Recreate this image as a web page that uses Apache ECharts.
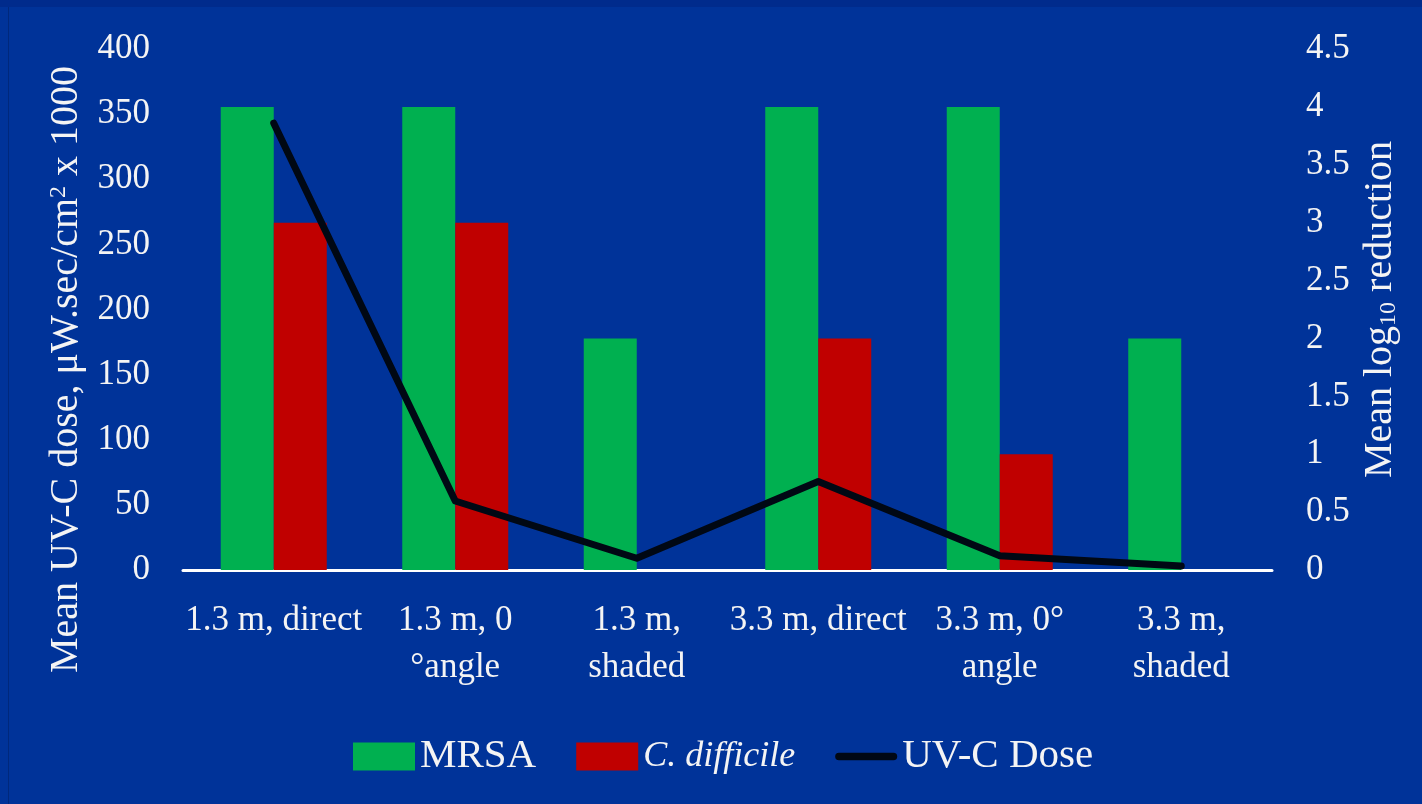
<!DOCTYPE html>
<html>
<head>
<meta charset="utf-8">
<script src="https://cdn.jsdelivr.net/npm/echarts@6/dist/echarts.min.js"></script>
<style>
  html, body { margin: 0; padding: 0; background: #003399; overflow: hidden; }
  #chart { position: absolute; left: 0; top: 0; width: 1422px; height: 804px; }
  #topband { position: absolute; left: 0; top: 0; width: 1422px; height: 7px; background: #002b8c; z-index: 2; }
  #leftline { position: absolute; left: 8px; top: 7px; width: 1px; height: 797px; background: #00287c; z-index: 2; }
</style>
</head>
<body>
<div id="chart"></div>
<div id="topband"></div>
<div id="leftline"></div>
<script>
// Exposure positions
const categories = ['1.3 m, direct', '1.3 m, 0\n°angle', '1.3 m,\nshaded', '3.3 m, direct', '3.3 m, 0°\nangle', '3.3 m,\nshaded'];
// Mean log10 reduction per organism (right axis)
const mrsa = [4, 4, 2, 4, 4, 2];
const cDifficile = [3, 3, 0, 2, 1, 0];
// Mean UV-C dose, µW·sec/cm² x 1000 (left axis)
const uvcDose = [343, 53, 9, 68, 11, 3];
// Axis ranges
const doseAxis = { min: 0, max: 400, interval: 50 };
const logAxis = { min: 0, max: 4.5, interval: 0.5 };
const seriesNames = ['MRSA', 'C. difficile', 'UV-C Dose'];

const FONT = '"Liberation Serif", "DejaVu Serif", serif';
const TEXT = '#f4f4f4';

const chart = echarts.init(document.getElementById('chart'));
chart.setOption({
  backgroundColor: 'transparent',
  textStyle: { fontFamily: FONT },
  grid: { left: 183, right: 150, top: 49, bottom: 234, containLabel: false },
  legend: {
    left: 353,
    top: 736,
    padding: 0,
    itemWidth: 62,
    itemHeight: 28,
    itemGap: 40,
    data: [
      { name: seriesNames[0], icon: 'rect' },
      { name: seriesNames[1], icon: 'rect' },
      { name: seriesNames[2], icon: 'path://M4,0 H62 A4,4 0 0 1 62,8 H4 A4,4 0 0 1 4,0 Z', itemStyle: { color: '#000814' } }
    ],
    formatter: function (name) {
      return name === seriesNames[1] ? '{it|' + name + '}' : name;
    },
    textStyle: {
      color: TEXT,
      fontFamily: FONT,
      fontSize: 41,
      rich: { it: { fontStyle: 'italic', fontSize: 36, color: TEXT, fontFamily: FONT } }
    }
  },
  xAxis: {
    type: 'category',
    data: categories,
    axisLine: { show: true, lineStyle: { color: '#ffffff', width: 3 } },
    axisTick: { show: false },
    axisLabel: {
      color: TEXT,
      fontSize: 35,
      fontFamily: FONT,
      lineHeight: 47,
      margin: 27,
      interval: 0
    }
  },
  yAxis: [
    {
      type: 'value',
      position: 'left',
      min: doseAxis.min,
      max: doseAxis.max,
      interval: doseAxis.interval,
      splitLine: { show: false },
      axisLine: { show: false },
      axisTick: { show: false },
      axisLabel: { color: TEXT, fontSize: 35, fontFamily: FONT, margin: 33 },
      name: 'Mean UV-C dose, μW.sec/cm{sup|2} x 1000',
      nameLocation: 'middle',
      nameGap: 88,
      nameRotate: 90,
      nameTextStyle: {
        color: TEXT,
        fontSize: 40,
        fontFamily: FONT,
        padding: [0, 120, 0, 0],
        rich: {
          sup: { fontSize: 24, verticalAlign: 'top', color: TEXT, fontFamily: FONT, lineHeight: 40 }
        }
      }
    },
    {
      type: 'value',
      position: 'right',
      min: logAxis.min,
      max: logAxis.max,
      interval: logAxis.interval,
      splitLine: { show: false },
      axisLine: { show: false },
      axisTick: { show: false },
      axisLabel: { color: TEXT, fontSize: 35, fontFamily: FONT, margin: 34 },
      name: 'Mean log{sub|10} reduction',
      nameLocation: 'middle',
      nameGap: 87,
      nameRotate: 90,
      nameTextStyle: {
        color: TEXT,
        fontSize: 40,
        fontFamily: FONT,
        rich: {
          sub: { fontSize: 24, verticalAlign: 'bottom', color: TEXT, fontFamily: FONT, lineHeight: 40 }
        }
      }
    }
  ],
  series: [
    {
      name: seriesNames[0],
      type: 'bar',
      yAxisIndex: 1,
      data: mrsa,
      barWidth: 53,
      barGap: '0%',
      itemStyle: { color: '#00b050' }
    },
    {
      name: seriesNames[1],
      type: 'bar',
      yAxisIndex: 1,
      data: cDifficile,
      barWidth: 53,
      barGap: '0%',
      itemStyle: { color: '#c00000' }
    },
    {
      name: seriesNames[2],
      type: 'line',
      yAxisIndex: 0,
      data: uvcDose,
      symbol: 'none',
      lineStyle: { color: '#000814', width: 7, cap: 'round', join: 'round' },
      itemStyle: { color: '#000814' },
      z: 5
    }
  ],
  animation: false
});
</script>
</body>
</html>
